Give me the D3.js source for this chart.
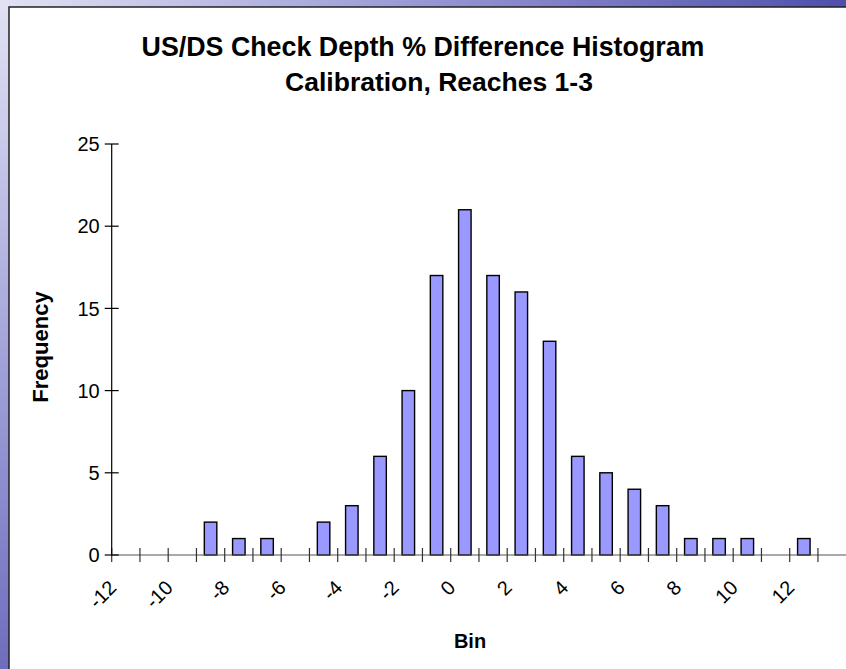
<!DOCTYPE html>
<html>
<head>
<meta charset="utf-8">
<script src="https://cdn.jsdelivr.net/npm/d3@7"></script>
<style>
  html, body { margin: 0; padding: 0; background: #fff; }
  svg { display: block; }
  text { font-family: "Liberation Sans", Arial, sans-serif; fill: #000; }
</style>
</head>
<body>
<svg id="chart" width="846" height="669"></svg>
<script>
// ---- data ----
const titleLines = ["US/DS Check Depth % Difference Histogram", "Calibration, Reaches 1-3"];
const xTitle = "Bin";
const yTitle = "Frequency";
// upper bound of each histogram bin
const bins = [-11,-10,-9,-8,-7,-6,-5,-4,-3,-2,-1,0,1,2,3,4,5,6,7,8,9,10,11,12,13];
const freq = [0,0,0,2,1,1,0,2,3,6,10,17,21,17,16,13,6,5,4,3,1,1,1,0,1];
const xTickValues = d3.range(-12, 14, 1);
const xLabelValues = [-12,-10,-8,-6,-4,-2,0,2,4,6,8,10,12];
const yTickValues = [0,5,10,15,20,25];

const svg = d3.select("#chart");
const W = 846, H = 669;

// slide background
const defs = svg.append("defs");
const rg = defs.append("radialGradient").attr("id", "bg")
  .attr("gradientUnits", "userSpaceOnUse").attr("cx", 0).attr("cy", 0).attr("r", 900);
rg.append("stop").attr("offset", "0%").attr("stop-color", "#e2e2f4");
rg.append("stop").attr("offset", "45%").attr("stop-color", "#9a9ad6");
rg.append("stop").attr("offset", "100%").attr("stop-color", "#4646a6");
svg.append("rect").attr("width", W).attr("height", H).attr("fill", "url(#bg)");

// chart area
svg.append("rect").attr("x", 9).attr("y", 7).attr("width", W).attr("height", H)
  .attr("fill", "#fff").attr("stroke", "#222").attr("stroke-width", 1.5);

const x = d3.scaleLinear().domain([-12, 14]).range([111.7, 846.2]);
const y = d3.scaleLinear().domain([0, 25]).range([555, 144]);

// bars
const barW = 12.5;
svg.append("g").selectAll("rect").data(bins.map((b, i) => ({b, v: freq[i]})).filter(d => d.v > 0))
  .join("rect")
  .attr("x", d => x(d.b - 0.5) - barW / 2)
  .attr("y", d => y(d.v))
  .attr("width", barW)
  .attr("height", d => y(0) - y(d.v))
  .attr("fill", "#9999ff")
  .attr("stroke", "#000")
  .attr("stroke-width", 1.4);

// x axis
const gx = svg.append("g").attr("transform", `translate(0,${y(0)})`);
gx.append("line").attr("x1", x(-12)).attr("x2", W).attr("y1", 0).attr("y2", 0)
  .attr("stroke", "#555").attr("stroke-width", 1.2);
gx.selectAll("line.t").data(xTickValues).join("line").attr("class", "t")
  .attr("x1", d => x(d)).attr("x2", d => x(d)).attr("y1", -7).attr("y2", 7)
  .attr("stroke", "#333").attr("stroke-width", 1.2);
gx.selectAll("text").data(xLabelValues).join("text")
  .attr("transform", d => `translate(${x(d) + 1},29) rotate(-45)`)
  .attr("text-anchor", "end").attr("dominant-baseline", "central")
  .attr("font-size", 20).text(d => d);

// y axis
const gy = svg.append("g").attr("transform", `translate(${x(-12)},0)`);
gy.append("line").attr("x1", 0).attr("x2", 0).attr("y1", y(0)).attr("y2", y(25))
  .attr("stroke", "#000").attr("stroke-width", 1.2);
gy.selectAll("line.t").data(yTickValues).join("line").attr("class", "t")
  .attr("x1", -7).attr("x2", 7).attr("y1", d => y(d)).attr("y2", d => y(d))
  .attr("stroke", "#000").attr("stroke-width", 1.2);
gy.selectAll("text").data(yTickValues).join("text")
  .attr("x", -12).attr("y", d => y(d)).attr("dy", "0.36em")
  .attr("text-anchor", "end").attr("font-size", 20).text(d => d);

// titles
svg.append("text").attr("x", 423).attr("y", 56).attr("text-anchor", "middle")
  .attr("font-size", 26.8).attr("font-weight", "bold").text(titleLines[0]);
svg.append("text").attr("x", 439).attr("y", 91).attr("text-anchor", "middle")
  .attr("font-size", 26.5).attr("font-weight", "bold").text(titleLines[1]);
svg.append("text").attr("x", 470).attr("y", 648).attr("text-anchor", "middle")
  .attr("font-size", 20).attr("font-weight", "bold").text(xTitle);
svg.append("text").attr("transform", "translate(48,347) rotate(-90)").attr("text-anchor", "middle")
  .attr("font-size", 22).attr("font-weight", "bold").text(yTitle);
</script>
</body>
</html>
